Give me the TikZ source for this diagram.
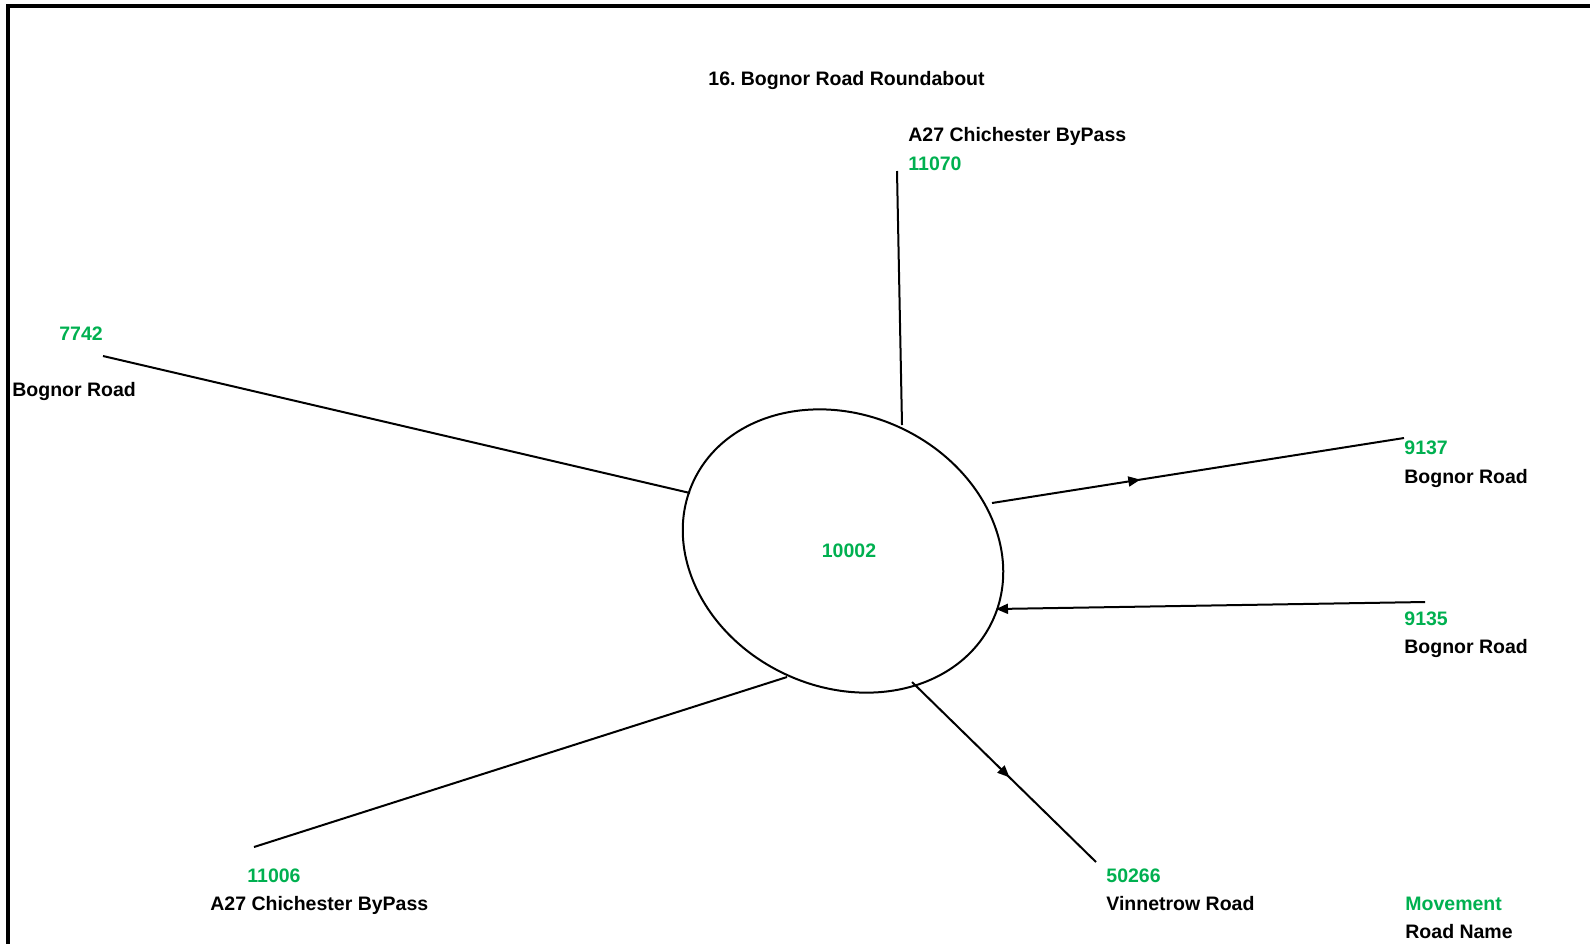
\documentclass[tikz,border=0pt]{standalone}
\usepackage{fontspec}
\setmainfont{Liberation Sans}
\usetikzlibrary{arrows.meta,shapes.geometric,decorations.markings}
\definecolor{movegreen}{RGB}{0,176,80}
\frenchspacing

\begin{document}
\begin{tikzpicture}[x=0.5pt,y=-0.5pt,
		lbl/.style={anchor=base west,inner sep=0pt,font=\fontsize{9.75}{11}\selectfont\bfseries},
		mov/.style={lbl,text=movegreen},
		road/.style={line width=1pt},
		midtip/.style={postaction={decorate},decoration={markings,mark=at position #1 with {\arrow{Triangle[length=6pt,width=5pt]}}}}]
	\useasboundingbox (0,0) rectangle (1590,944);
	\draw[line width=2pt] (1590,6) -- (7.5,6) -- (7.5,944);
	\node[draw,ellipse,line width=1pt,inner sep=0pt,minimum width=165pt,minimum height=136pt,rotate=-25] (rb) at (843,551) {};
	\node[mov,anchor=base] (rbno) at (849,557) {10002};
	\node[lbl] (title) at (708,85) {16. Bognor Road Roundabout};
	% arms
	\coordinate (a27n) at (897,171);   \coordinate (a27n-in) at (902,425);
	\coordinate (bogw) at (103,356);   \coordinate (bogw-in) at (690,493);
	\coordinate (a27s) at (254,847);   \coordinate (a27s-in) at (787,677);
	\coordinate (boge1) at (1404,438); \coordinate (boge1-out) at (992,503);
	\coordinate (boge2) at (1425,602); \coordinate (boge2-in) at (996,609);
	\coordinate (vinn) at (1096,862);  \coordinate (vinn-out) at (912,682);
	\path[road]
	(a27n) edge (a27n-in)
	(bogw) edge (bogw-in)
	(a27s) edge (a27s-in)
	(boge1-out) edge[midtip=0.36] (boge1)
	(boge2) edge[-{Triangle[length=6pt,width=5pt]}] (boge2-in)
	(vinn-out) edge[midtip=0.53] (vinn);
	% labels
	\node[lbl] (a27n-nm) at (908,141) {A27 Chichester ByPass};
	\node[mov] (a27n-no) at (908,170) {11070};
	\node[mov] (bogw-no) at (59,340) {7742};
	\node[lbl] (bogw-nm) at (12,396) {Bognor Road};
	\node[mov] (boge1-no) at (1404,454) {9137};
	\node[lbl] (boge1-nm) at (1404,483) {Bognor Road};
	\node[mov] (boge2-no) at (1404,625) {9135};
	\node[lbl] (boge2-nm) at (1404,653) {Bognor Road};
	\node[mov] (a27s-no) at (247,882) {11006};
	\node[lbl] (a27s-nm) at (210,910) {A27 Chichester ByPass};
	\node[mov] (vinn-no) at (1106,882) {50266};
	\node[lbl] (vinn-nm) at (1106,910) {Vinnetrow Road};
	\node[mov] (key-mv) at (1405,910) {Movement};
	\node[lbl] (key-rd) at (1405,938) {Road Name};
\end{tikzpicture}
\end{document}
